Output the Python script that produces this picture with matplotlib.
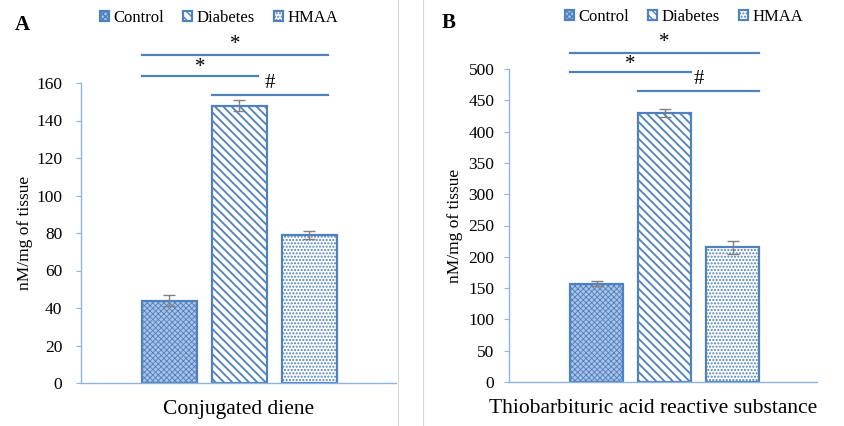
import matplotlib
matplotlib.use("Agg")
import matplotlib.pyplot as plt
import matplotlib.transforms as mtransforms
from matplotlib.lines import Line2D

plt.rcParams['font.family'] = ['Liberation Serif', 'DejaVu Serif']

groups = ["Control", "Diabetes", "HMAA"]
cd_values = [44, 148, 79]
cd_errors = [3, 3, 2]
tbars_values = [157, 430, 215]
tbars_errors = [4, 6, 10]

# (from bar, to bar, symbol)
comparisons = [(0, 2, "*"), (0, 1, "*"), (1, 2, "#")]
sym_offset_px = [11, 7.5, 11.5]

blue = "#4f81bd"
axis_col = "#8db3e2"
hatches = ["xxxxxx", "\\\\\\\\", "....."]
faces = ["#a9c1e8", "white", "white"]
hatch_lw = [0.6, 1.3, 1.0]

fig = plt.figure(figsize=(8.44, 4.26), dpi=100)
W, H = 844, 426


def px_axes(l, r, b, t):
    return fig.add_axes([l / W, 1 - b / H, (r - l) / W, (b - t) / H])


def panel(ax, values, errors, ymax, ystep, xlim, width, xlabel, levels,
          end_frac, ylab_x, leg_xy, tick_pad, xlab_shift):
    for i, v in enumerate(values):
        with plt.rc_context({"hatch.linewidth": hatch_lw[i]}):
            ax.bar(i, v, width=width, color=faces[i], edgecolor=blue,
                   hatch=hatches[i], linewidth=1.6, label=groups[i], zorder=2)
    ax.errorbar(list(range(len(values))), values, yerr=errors, fmt="none",
                ecolor="#808080", elinewidth=1, capsize=4, capthick=1, zorder=3)
    ax.set_ylim(0, ymax)
    ax.set_xlim(*xlim)
    ax.set_yticks(range(0, ymax + 1, ystep))
    ax.set_xticks([])
    for s in ["top", "right"]:
        ax.spines[s].set_visible(False)
    for s in ["left", "bottom"]:
        ax.spines[s].set_color(axis_col)
        ax.spines[s].set_linewidth(1)
    ax.tick_params(axis="y", length=3.5, color=axis_col, labelsize=12.5,
                   pad=tick_pad)
    ax.set_ylabel("nM/mg of tissue", fontsize=12.5)
    ax.yaxis.set_label_coords(ylab_x, 0.5)
    ax.set_xlabel(xlabel, fontsize=15.5)
    ax.xaxis.set_label_coords(0.5 + xlab_shift[0], -xlab_shift[1])
    ax.xaxis.label.set_va("top")
    trans = mtransforms.blended_transform_factory(ax.transData, ax.transAxes)
    half = width / 2
    for (a, b, sym), lev, off in zip(comparisons, levels, sym_offset_px):
        x0 = a - half
        x1 = b + half * end_frac
        ax.add_line(Line2D([x0, x1], [lev, lev], color=blue, lw=1.6,
                           transform=trans, clip_on=False))
        t = trans + mtransforms.ScaledTranslation(0, off / 100, fig.dpi_scale_trans)
        ax.text((x0 + x1) / 2, lev, sym, transform=t,
                ha="center", va="center", fontsize=15, clip_on=False)
    ax.legend(loc="center", bbox_to_anchor=(leg_xy[0] / W, 1 - leg_xy[1] / H),
              bbox_transform=fig.transFigure, ncol=3, frameon=False,
              fontsize=12, handlelength=0.55, handleheight=0.55,
              handletextpad=0.3, columnspacing=1.1, borderaxespad=0,
              borderpad=0)


axA = px_axes(81, 396, 383, 83)
panel(axA, cd_values, cd_errors, 160, 20, (-1.26, 3.24), 0.786,
      "Conjugated diene", [1.093, 1.025, 0.96], 0.7,
      (33 - 81) / 315, (219, 18), 10, (0.0, 17 / 300))
axB = px_axes(509, 817, 382, 69)
panel(axB, tbars_values, tbars_errors, 500, 50, (-1.29, 3.24), 0.78,
      "Thiobarbituric acid reactive substance", [1.051, 0.992, 0.93], 1.0,
      (463 - 509) / 308, (684, 17), 7, (-10 / 308, 17 / 313))

fig.text(15 / W, 1 - 25 / H, "A", fontsize=15, fontweight="bold", va="center")
fig.text(442 / W, 1 - 23 / H, "B", fontsize=15, fontweight="bold", va="center")

for xp in (398, 423):
    fig.add_artist(Line2D([xp / W, xp / W], [0, 1], color="#d9d9d9", lw=0.8,
                          transform=fig.transFigure))

fig.savefig("out.png", dpi=100)
